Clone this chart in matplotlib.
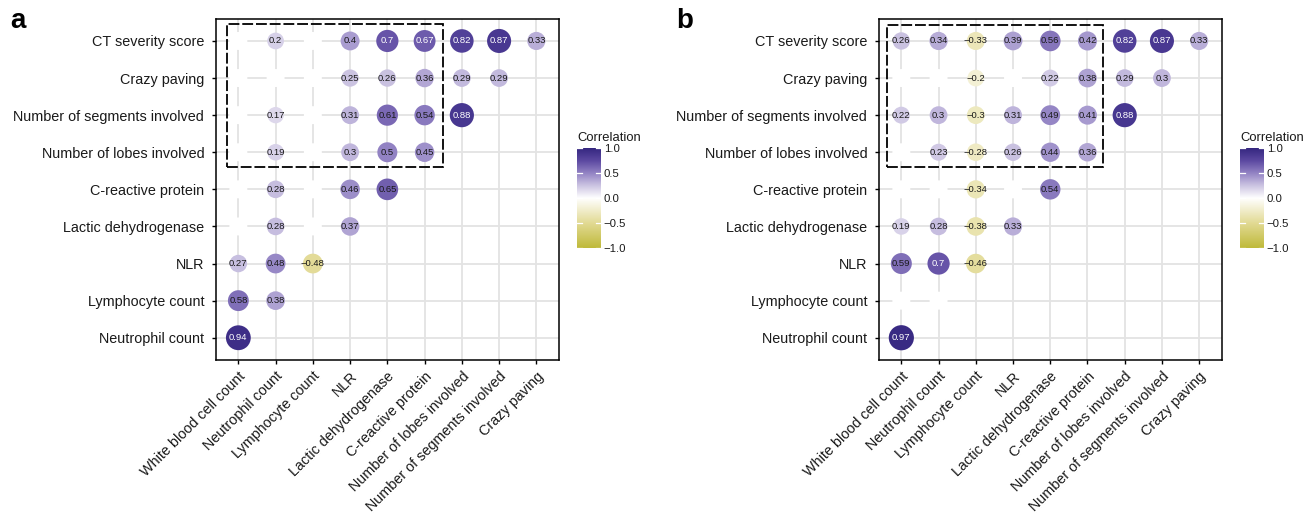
import matplotlib
matplotlib.use("Agg")
import matplotlib.pyplot as plt
from matplotlib.colors import LinearSegmentedColormap
from matplotlib.patches import Rectangle
import numpy as np

plt.rcParams['font.family'] = ['Liberation Sans', 'DejaVu Sans']

# ---------------- data ----------------
x_labels = ["White blood cell count", "Neutrophil count", "Lymphocyte count", "NLR",
            "Lactic dehydrogenase", "C-reactive protein", "Number of lobes involved",
            "Number of segments involved", "Crazy paving"]
# bottom -> top
y_labels = ["Neutrophil count", "Lymphocyte count", "NLR", "Lactic dehydrogenase",
            "C-reactive protein", "Number of lobes involved", "Number of segments involved",
            "Crazy paving", "CT severity score"]

# None = non-significant (blank cell)
a_corr = [
    [0.94],
    [0.58, 0.38],
    [0.27, 0.48, -0.48],
    [None, 0.28, None, 0.37],
    [None, 0.28, None, 0.46, 0.65],
    [None, 0.19, None, 0.30, 0.50, 0.45],
    [None, 0.17, None, 0.31, 0.61, 0.54, 0.88],
    [None, None, None, 0.25, 0.26, 0.36, 0.29, 0.29],
    [None, 0.20, None, 0.40, 0.70, 0.67, 0.82, 0.87, 0.33],
]
b_corr = [
    [0.97],
    [None, None],
    [0.59, 0.70, -0.46],
    [0.19, 0.28, -0.38, 0.33],
    [None, None, -0.34, None, 0.54],
    [None, 0.23, -0.28, 0.26, 0.44, 0.36],
    [0.22, 0.30, -0.30, 0.31, 0.49, 0.41, 0.88],
    [None, None, -0.20, None, 0.22, 0.38, 0.29, 0.30],
    [0.26, 0.34, -0.33, 0.39, 0.56, 0.42, 0.82, 0.87, 0.33],
]
cbar_ticks = [-1.0, -0.5, 0.0, 0.5, 1.0]

# ---------------- style ----------------
cmap = LinearSegmentedColormap.from_list('corr', [
    (0.0, '#BFBA3A'), (0.25, '#E2DA94'), (0.5, '#FFFFFF'),
    (0.625, '#CCC4E2'), (0.75, '#9383C4'), (0.875, '#5C49A1'), (1.0, '#352780')])

W, H = 1314, 518
fig = plt.figure(figsize=(W / 100, H / 100), dpi=100)


def px_to_s(d_px):
    return (d_px * 72 / 100) ** 2


def draw_panel(ax, rows, rect):
    xs, ys, vs, ss = [], [], [], []
    wx, wy = [], []
    for k, row in enumerate(rows, start=1):
        for i, v in enumerate(row, start=1):
            if v is None:
                wx.append(i); wy.append(k)
            else:
                xs.append(i); ys.append(k); vs.append(v)
                ss.append(px_to_s(14.5 + 11 * abs(v)))
    ax.scatter(wx, wy, s=px_to_s(18), color='white', edgecolors='none', zorder=2)
    ax.scatter(xs, ys, s=ss, c=vs, cmap=cmap, vmin=-1, vmax=1, edgecolors='none', zorder=3)
    for x, y, v in zip(xs, ys, vs):
        lab = f"{v:g}".replace('-', '\u2212')
        col = 'white' if v >= 0.67 else '#1a1a1a'
        ax.text(x, y, lab, ha='center', va='center', fontsize=6.8, color=col, zorder=4)
    x0, x1, y0, y1 = rect
    ax.add_patch(Rectangle((x0, y0), x1 - x0, y1 - y0, fill=False, lw=1.3,
                           ls=(0, (6, 1.6)), color='black', zorder=5))
    ax.set_xlim(0.4, 9.6)
    ax.set_ylim(0.4, 9.6)
    ax.set_xticks(range(1, 10))
    ax.set_yticks(range(1, 10))
    ax.set_xticklabels(x_labels, rotation=45, ha='right', va='top',
                       rotation_mode='anchor', fontsize=10.4, color='#1a1a1a')
    ax.set_yticklabels(y_labels, fontsize=10.4, color='#1a1a1a')
    ax.grid(True, color='#e3e3e3', lw=1.3, zorder=0)
    ax.set_axisbelow(True)
    for sp in ax.spines.values():
        sp.set_linewidth(1.1)
        sp.set_color('black')
    ax.tick_params(axis='y', length=3.0, width=1.0, color='black', pad=5.5)
    ax.tick_params(axis='x', length=3.0, width=1.0, color='black', pad=3.5)


def draw_cbar(left_px):
    cax = fig.add_axes([left_px / W, 1 - 248 / H, 24 / W, 100 / H])
    grad = np.linspace(-1, 1, 256).reshape(-1, 1)
    cax.imshow(grad, aspect='auto', cmap=cmap, origin='lower', extent=[0, 1, -1, 1])
    for t in cbar_ticks:
        cax.plot([0, 0.2], [t, t], color='white', lw=0.9)
        cax.plot([0.8, 1], [t, t], color='white', lw=0.9)
    cax.set_xlim(0, 1)
    cax.set_ylim(-1, 1)
    cax.set_xticks([])
    cax.yaxis.tick_right()
    cax.set_yticks(cbar_ticks)
    cax.set_yticklabels([f"{t:.1f}".replace('-', '\u2212') for t in cbar_ticks],
                        fontsize=8.2, color='#1a1a1a')
    cax.tick_params(length=0, pad=2)
    for sp in cax.spines.values():
        sp.set_visible(False)
    fig.text(left_px / W, 1 - 141 / H, "Correlation", fontsize=9.4, ha='left',
             va='baseline', color='#1a1a1a')


ax_a = fig.add_axes([216 / W, 1 - 360 / H, (558.7 - 216) / W, (360 - 18.7) / H])
draw_panel(ax_a, a_corr, (0.7, 6.5, 5.6, 9.45))
ax_b = fig.add_axes([879 / W, 1 - 360 / H, (1221.5 - 879) / W, (360 - 18.7) / H])
draw_panel(ax_b, b_corr, (0.62, 6.41, 5.6, 9.43))

draw_cbar(577)
draw_cbar(1240)

fig.text(10 / W, 1 - 28 / H, "a", fontsize=20, fontweight='bold', ha='left', va='baseline')
fig.text(676 / W, 1 - 28 / H, "b", fontsize=20, fontweight='bold', ha='left', va='baseline')

fig.savefig("out.png", dpi=100)
